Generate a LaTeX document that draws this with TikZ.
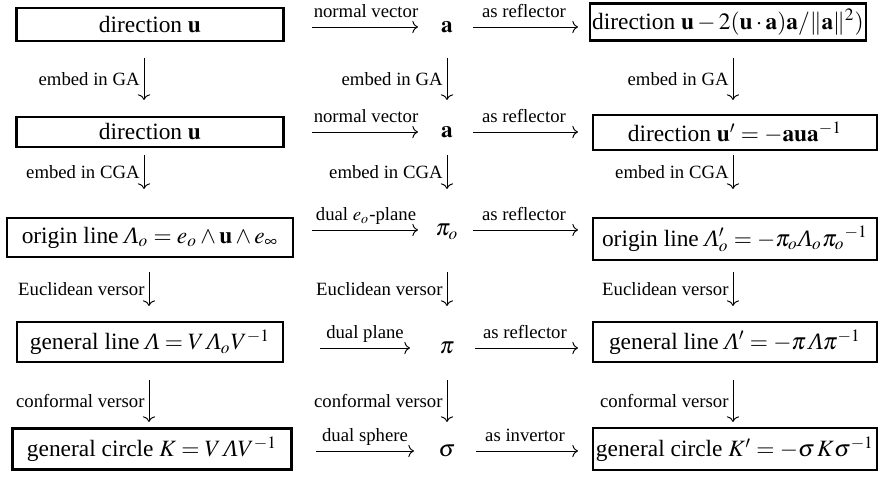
\documentclass[tikz,border=0pt]{standalone}
\usepackage{mathptmx}
\usepackage[no-math]{fontspec}
\setmainfont{Liberation Serif}
\usetikzlibrary{arrows.meta}
\newcommand{\Lam}{\mbox{\itshape Λ}}
\begin{document}
\begin{tikzpicture}[x=0.4274pt,y=-0.4274pt, font=\fontsize{10}{12}\selectfont,
  box/.style={draw, line width=0.9pt, inner sep=1pt},
  wh/.style 2 args={minimum width=#1*0.4274pt, minimum height=#2*0.4274pt},
  lab/.style={font=\fontsize{8}{9.6}\selectfont, inner sep=0pt},
  arr/.style={line width=0.4pt, -{To[length=2.4pt,width=5.2pt]}},
  mid/.style={inner sep=0pt, anchor=base}]
\useasboundingbox (0,0) rectangle (880,478);

% left column boxes
\node[box, wh={267}{33}] (L1) at (150,24.5) {direction $\mathbf{u}$};
\node[box, wh={267}{30}] (L2) at (150,132) {direction $\mathbf{u}$};
\node[box, wh={286}{39}] (L3) at (150,237.5) {origin line $\Lam_o = e_o\wedge\mathbf{u}\wedge e_\infty$};
\node[box, wh={266}{40}] (L4) at (150,342) {general line $\Lam = V\,\Lam_o V^{-1}$};
\node[box, wh={279}{41}] (L5) at (152,449) {general circle $K = V\,\Lam V^{-1}$};

% right column boxes
\node[box, wh={269}{37}] (R1) at (728,22) {direction $\mathbf{u}-2(\mathbf{u}\cdot\mathbf{a})\mathbf{a}/\|\mathbf{a}\|^2)$};
\node[box, wh={284}{35}] (R2) at (735,132.5) {direction $\mathbf{u}'=-\mathbf{aua}^{-1}$};
\node[box, wh={284}{42}] (R3) at (735,239) {origin line $\Lam'_o = -\pi_o\Lam_o\pi_o{}^{-1}$};
\node[box, wh={284}{40}] (R4) at (735,342) {general line $\Lam' = -\pi\,\Lam\pi^{-1}$};
\node[box, wh={284}{42}] (R5) at (735,449) {general circle $K' = -\sigma\,K\sigma^{-1}$};

% middle column
\node[mid] (M1) at (447,32.8) {$\mathbf{a}$};
\node[mid] (M2) at (447,137.8) {$\mathbf{a}$};
\node[mid] (M3) at (447,235.8) {$\pi_o$};
\node[mid] (M4) at (447,353.8) {$\pi$};
\node[mid] (M5) at (447,456.8) {$\sigma$};

% horizontal arrows
\foreach \r/\y/\a/\b/\c in {1/27/312/418/473, 2/132/312/418/473, 3/230/312/418/473, 4/348/320/410/475, 5/451/316/414/476}{
  \coordinate (h\r a) at (\a,\y);
  \coordinate (h\r b) at (\b,\y);
  \coordinate (h\r c) at (\c,\y);
  \coordinate (h\r d) at (578,\y);
  \draw[arr] (h\r a) -- (h\r b);
  \draw[arr] (h\r c) -- (h\r d);
}
\node[lab, anchor=base] (t1a) at (366,18) {normal vector};
\node[lab, anchor=base] (t1b) at (524,18) {as reflector};
\node[lab, anchor=base] (t2a) at (366,123) {normal vector};
\node[lab, anchor=base] (t2b) at (524,123) {as reflector};
\node[lab, anchor=base] (t3a) at (366,221) {dual $e_o$-plane};
\node[lab, anchor=base] (t3b) at (524,221) {as reflector};
\node[lab, anchor=base] (t4a) at (365,339) {dual plane};
\node[lab, anchor=base] (t4b) at (525,339) {as reflector};
\node[lab, anchor=base] (t5a) at (365,442) {dual sphere};
\node[lab, anchor=base] (t5b) at (525,442) {as invertor};

% vertical arrows
\foreach \g/\ya/\yb/\xl/\txt in {1/58/100/144/embed in GA, 2/155/189/144/embed in CGA, 3/272/306/149/Euclidean versor, 4/380/422/149/conformal versor}{
  \foreach \c/\x in {L/\xl, M/447, R/733}{
    \coordinate (v\c\g a) at (\x,\ya);
    \coordinate (v\c\g b) at (\x,\yb);
    \draw[arr] (v\c\g a) -- (v\c\g b);
    \node[lab, anchor=east] (l\c\g) at ({\x-4},{(\ya+\yb)/2}) {\txt};
  }
}
\end{tikzpicture}
\end{document}
